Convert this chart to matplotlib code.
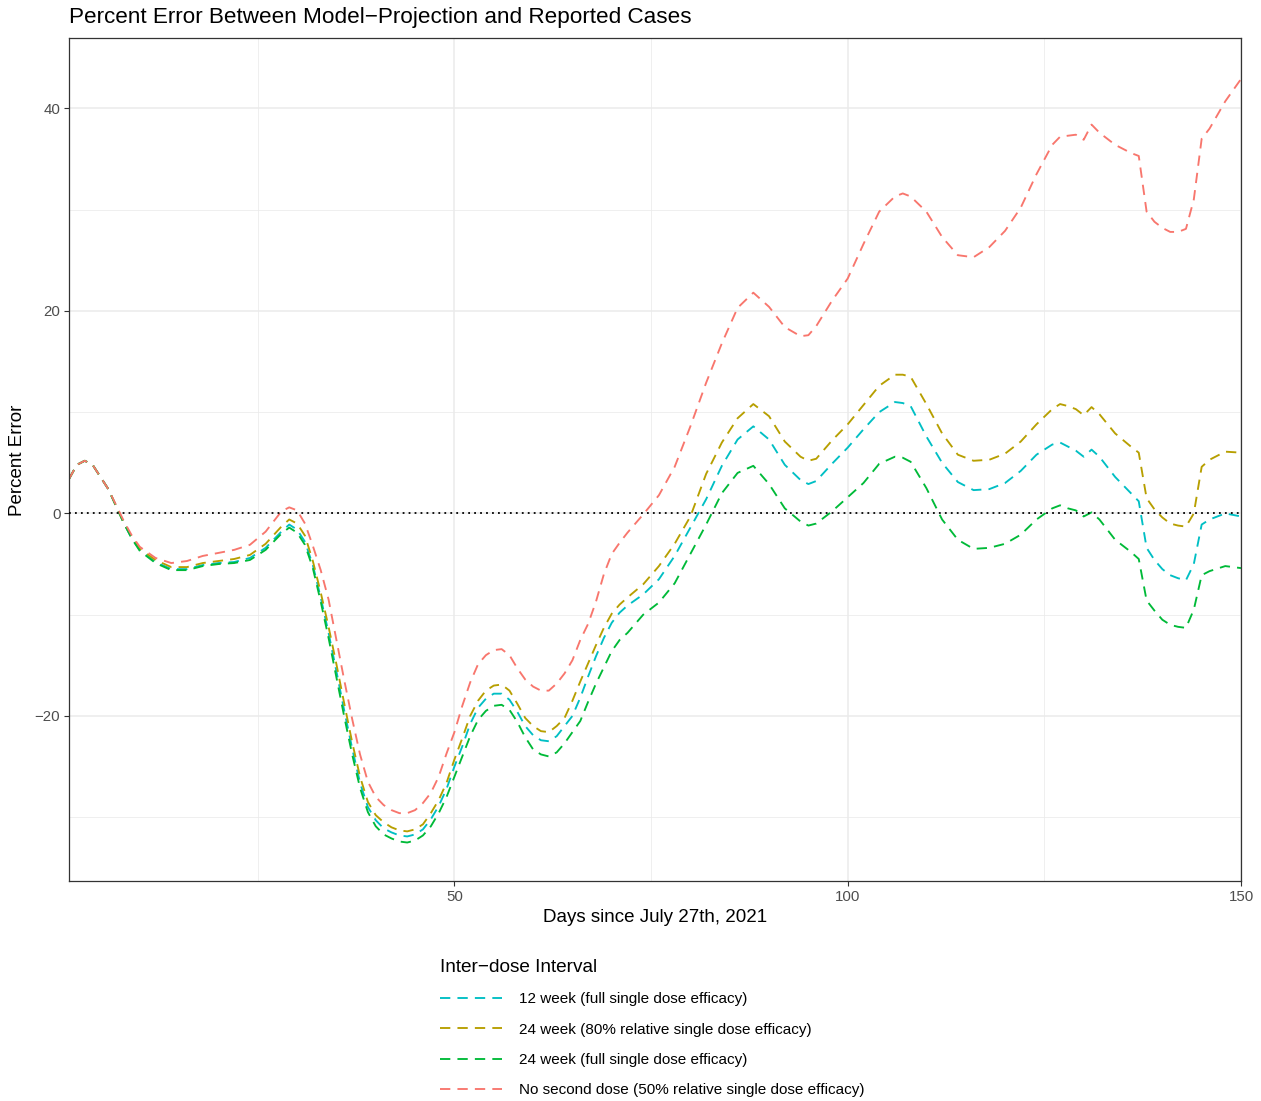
import matplotlib
matplotlib.use("Agg")
import matplotlib.pyplot as plt
from matplotlib.lines import Line2D

plt.rcParams['font.family'] = ['Liberation Sans', 'DejaVu Sans']

# days since July 27th, 2021
days = [1, 2, 3, 4, 5, 6, 7, 8, 9, 10,
        12, 14, 16, 18, 20, 22, 24, 26, 28, 29,
        30, 31, 32, 33, 34, 35, 36, 37, 38, 39,
        40, 41, 42, 43, 44, 45, 46, 47, 48, 49,
        50, 51, 52, 53, 54, 55, 56, 57, 58, 59,
        60, 61, 62, 63, 64, 65, 66, 67, 68, 69,
        70, 71, 72, 74, 76, 78, 80, 82, 84, 86,
        88, 90, 92, 94, 95, 96, 98, 100, 102, 104,
        106, 107, 108, 110, 112, 114, 116, 118, 120, 122,
        124, 126, 127, 128, 129, 130, 131, 132, 134, 136,
        137, 138, 139, 140, 141, 142, 143, 144, 145, 146,
        148, 150]

# percent error per scenario
wk12_full = [3.4, 4.8, 5.2, 4.8, 3.6, 2.4, 0.7, -1.0, -2.5, -3.6,
             -4.8, -5.5, -5.5, -5.1, -4.9, -4.8, -4.4, -3.4, -1.8, -1.1,
             -1.6, -2.8, -5.1, -8.3, -11.8, -15.6, -19.5, -23.2, -26.6, -29.0,
             -30.3, -31.1, -31.5, -31.8, -31.9, -31.7, -31.2, -30.2, -28.9, -27.2,
             -25.0, -23.0, -20.8, -19.2, -18.3, -17.8, -17.8, -18.4, -19.6, -21.0,
             -21.9, -22.4, -22.5, -22.0, -21.0, -20.0, -18.2, -16.1, -14.1, -12.3,
             -10.8, -9.8, -9.1, -8.0, -6.5, -4.2, -1.4, 1.4, 4.7, 7.3,
             8.6, 7.3, 4.8, 3.3, 2.9, 3.2, 4.9, 6.5, 8.3, 10.0,
             11.0, 10.9, 10.6, 7.6, 5.0, 3.1, 2.3, 2.4, 3.0, 4.2,
             5.8, 6.8, 7.0, 6.6, 6.2, 5.6, 6.3, 5.6, 3.6, 2.0,
             1.2, -3.4, -4.6, -5.5, -6.1, -6.4, -6.6, -5.0, -1.1, -0.6,
             0.0, -0.3]

wk24_80 = [3.4, 4.8, 5.2, 4.8, 3.6, 2.4, 0.7, -1.0, -2.4, -3.5,
           -4.6, -5.3, -5.3, -4.9, -4.7, -4.5, -4.1, -3.0, -1.3, -0.6,
           -1.0, -2.2, -4.7, -7.8, -11.2, -14.9, -18.8, -22.6, -26.0, -28.5,
           -29.8, -30.5, -31.0, -31.3, -31.4, -31.2, -30.7, -29.6, -28.3, -26.6,
           -24.3, -22.2, -20.0, -18.5, -17.5, -17.0, -16.9, -17.5, -18.8, -20.2,
           -21.0, -21.5, -21.6, -21.0, -20.2, -18.5, -16.6, -14.8, -13.0, -11.3,
           -9.9, -9.0, -8.3, -7.0, -5.2, -3.0, -0.3, 3.9, 7.0, 9.4,
           10.8, 9.6, 7.1, 5.6, 5.2, 5.4, 7.2, 8.8, 10.7, 12.6,
           13.7, 13.7, 13.5, 10.8, 7.9, 5.8, 5.2, 5.3, 5.9, 7.1,
           8.8, 10.3, 10.8, 10.6, 10.3, 9.7, 10.5, 9.8, 7.9, 6.6,
           6.0, 1.5, 0.4, -0.4, -1.0, -1.2, -1.3, 0.0, 4.6, 5.3,
           6.1, 6.0]

wk24_full = [3.4, 4.8, 5.2, 4.8, 3.6, 2.4, 0.7, -1.0, -2.5, -3.7,
             -4.9, -5.6, -5.6, -5.2, -5.0, -4.9, -4.6, -3.6, -2.0, -1.4,
             -1.9, -3.1, -5.4, -8.7, -12.3, -16.2, -20.1, -23.8, -27.1, -29.5,
             -30.9, -31.7, -32.1, -32.4, -32.5, -32.3, -31.8, -30.9, -29.6, -28.0,
             -26.0, -24.0, -22.0, -20.4, -19.5, -19.0, -18.9, -19.4, -20.6, -22.1,
             -23.3, -23.8, -24.0, -23.6, -22.7, -21.6, -20.5, -18.6, -16.8, -15.2,
             -13.6, -12.5, -11.8, -10.0, -8.8, -6.9, -4.0, -1.1, 2.0, 4.0,
             4.7, 2.9, 0.5, -0.8, -1.2, -1.0, 0.2, 1.6, 3.0, 4.9,
             5.6, 5.5, 5.1, 2.5, -0.6, -2.6, -3.5, -3.4, -3.0, -2.1,
             -0.6, 0.5, 0.8, 0.5, 0.3, -0.3, 0.1, -0.6, -2.6, -3.8,
             -4.5, -8.6, -9.6, -10.5, -11.0, -11.2, -11.3, -9.5, -6.1, -5.7,
             -5.2, -5.4]

no_second = [3.4, 4.8, 5.2, 4.8, 3.6, 2.4, 0.8, -0.8, -2.2, -3.3,
             -4.4, -4.9, -4.7, -4.2, -3.9, -3.6, -3.1, -1.8, 0.2, 0.6,
             0.3, -1.0, -3.2, -5.6, -8.5, -12.5, -16.5, -20.3, -23.8, -26.5,
             -28.0, -28.8, -29.3, -29.6, -29.6, -29.3, -28.6, -27.6, -26.0, -23.7,
             -21.6, -19.0, -16.7, -14.9, -14.0, -13.5, -13.4, -14.0, -15.3, -16.4,
             -17.1, -17.5, -17.5, -16.8, -15.8, -14.5, -12.5, -10.9, -8.7, -6.0,
             -4.0, -2.9, -1.9, -0.1, 1.8, 4.6, 8.6, 12.9, 16.8, 20.3,
             21.8, 20.4, 18.4, 17.5, 17.6, 18.5, 21.0, 23.2, 26.6, 29.8,
             31.3, 31.6, 31.3, 29.8, 27.3, 25.5, 25.3, 26.3, 27.9, 30.2,
             33.5, 36.4, 37.2, 37.3, 37.4, 36.9, 38.4, 37.6, 36.4, 35.6,
             35.3, 29.8, 28.8, 28.2, 27.8, 27.8, 28.1, 31.0, 37.0, 38.0,
             40.7, 42.9]

labels = ["12 week (full single dose efficacy)",
          "24 week (80% relative single dose efficacy)",
          "24 week (full single dose efficacy)",
          "No second dose (50% relative single dose efficacy)"]
colors = ["#00BFC4", "#B79F00", "#00BA38", "#F8766D"]
series = [wk12_full, wk24_80, wk24_full, no_second]

W, H = 1261, 1101
fig = plt.figure(figsize=(W / 100, H / 100), dpi=100)
ax = fig.add_axes([69 / W, 1 - 881 / H, (1241 - 69) / W, (881 - 38) / H])

# grid like theme_bw
for v in [25, 75, 125]:
    ax.axvline(v, color="#ebebeb", lw=0.55, zorder=0)
for v in [-30, -10, 10, 30]:
    ax.axhline(v, color="#ebebeb", lw=0.55, zorder=0)
for v in [50, 100, 150]:
    ax.axvline(v, color="#ebebeb", lw=1.1, zorder=0)
for v in [-20, 0, 20, 40]:
    ax.axhline(v, color="#ebebeb", lw=1.1, zorder=0)

for vals, c in zip(series, colors):
    ax.plot(days, vals, color=c, lw=1.35, linestyle=(0, (5.5, 3.8)), zorder=2)

ax.axhline(0, color="black", lw=1.3, linestyle=(0, (1, 2.3)), zorder=3)

ax.set_xlim(1, 150)
ax.set_ylim(-36.3, 46.95)
ax.set_xticks([50, 100, 150])
ax.set_xticklabels(["50", "100", "150"])
ax.set_yticks([-20, 0, 20, 40])
ax.set_yticklabels(["\u221220", "0", "20", "40"])
ax.tick_params(axis="both", colors="#333333", labelcolor="#4d4d4d",
               labelsize=10.8, length=3.7, width=0.8, pad=2.5)
for s in ax.spines.values():
    s.set_color("#333333")
    s.set_linewidth(0.9)

fig.text(655 / W, 1 - 917 / H, "Days since July 27th, 2021", ha="center",
         va="center", fontsize=13.5)
fig.text(18 / W, 1 - 460 / H, "Percent Error", ha="center", va="center",
         rotation=90, fontsize=13.5)
fig.text(69 / W, 1 - 17 / H,
         "Percent Error Between Model\u2212Projection and Reported Cases",
         ha="left", va="center", fontsize=16.2)

handles = [Line2D([0], [0], color=c, lw=1.35, linestyle=(0, (5.5, 3.8)))
           for c in colors]
leg = fig.legend(handles, labels, loc="upper left",
                 bbox_to_anchor=(440 / W, 1 - 959 / H), frameon=False,
                 title="Inter\u2212dose Interval", title_fontsize=13.7,
                 fontsize=11, handlelength=4.05, handletextpad=1.1,
                 labelspacing=1.07, alignment="left", borderaxespad=0,
                 borderpad=0)

fig.savefig("out.png", dpi=100)
